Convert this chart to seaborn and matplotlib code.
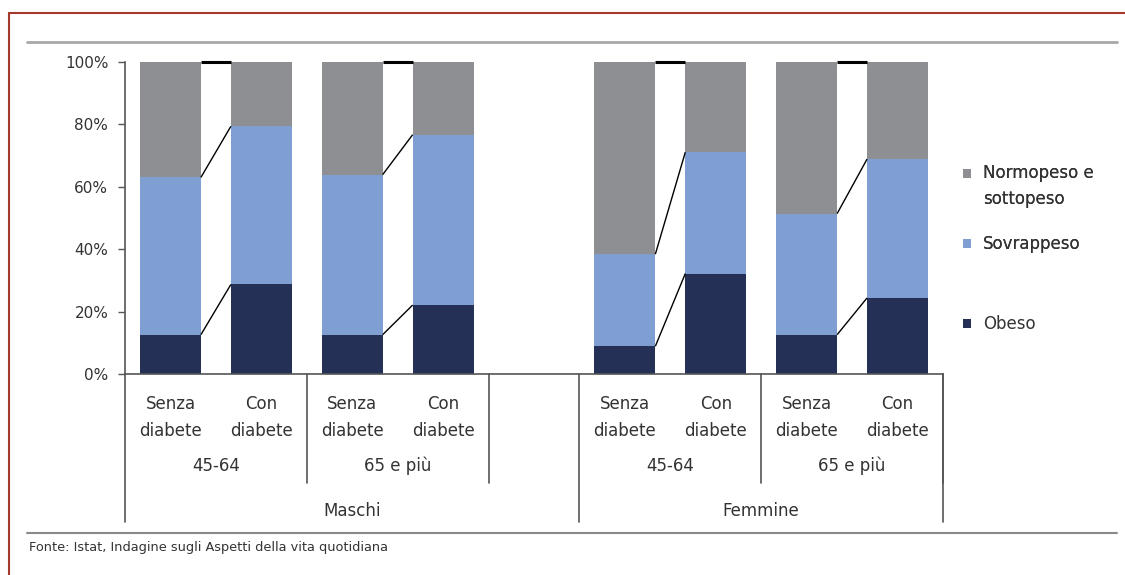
import numpy as np
import pandas as pd
import seaborn as sns
import matplotlib
matplotlib.use("Agg")
import matplotlib.pyplot as plt
import matplotlib.transforms as mtransforms
from matplotlib.patches import Patch, Rectangle
from matplotlib.lines import Line2D
from matplotlib.legend_handler import HandlerPatch

# ---------------- data ----------------
sexes = ["Maschi", "Femmine"]
sex = ["Maschi", "Maschi", "Maschi", "Maschi", "Femmine", "Femmine", "Femmine", "Femmine"]
age = ["45-64", "45-64", "65 e più", "65 e più", "45-64", "45-64", "65 e più", "65 e più"]
diab = ["Senza\ndiabete", "Con\ndiabete"] * 4
obeso = [12.6, 28.7, 12.6, 22.1, 8.9, 32.2, 12.6, 24.4]
sovrappeso = [50.4, 50.7, 51.3, 54.6, 29.5, 38.9, 38.8, 44.5]
normopeso = [37.0, 20.6, 36.1, 23.3, 61.6, 28.9, 48.6, 31.1]
series_labels = ["Normopeso e\nsottopeso", "Sovrappeso", "Obeso"]
colors = ["#8e8f93", "#7f9fd2", "#243056"]
source = "Fonte: Istat, Indagine sugli Aspetti della vita quotidiana"

# slot index: an empty slot separates the two sexes
pos = [i + sexes.index(s) for i, s in enumerate(sex)]
df = pd.DataFrame({"pos": pos, "sex": sex, "age": age, "diab": diab,
                   "obeso": obeso, "sovrappeso": sovrappeso, "normopeso": normopeso})
df["c_obeso"] = df["obeso"]
df["c_sovra"] = df["obeso"] + df["sovrappeso"]
df["c_tot"] = df["c_sovra"] + df["normopeso"]

# ---------------- style ----------------
sns.set_theme(style="white")
plt.rcParams["font.family"] = ["DejaVu Sans"]
TXT = "#333333"

W, H = 1125, 575
fig = plt.figure(figsize=(W / 100, H / 100), dpi=100)
fig.patch.set_facecolor("white")
ax = fig.add_axes([125 / W, 1 - 374 / H, (943 - 125) / W, (374 - 62) / H])

bw = 0.67
for col, c in zip(["c_tot", "c_sovra", "c_obeso"], colors):
    sns.barplot(data=df, x="pos", y=col, native_scale=True, width=bw, color=c,
                errorbar=None, linewidth=0, edgecolor="none", saturation=1, ax=ax)

# series lines between the two bars of each age group
for j in range(0, len(df), 2):
    a, b = df.iloc[j], df.iloc[j + 1]
    x0, x1 = a["pos"] + bw / 2, b["pos"] - bw / 2
    for k, (ca, cb) in enumerate([(a["c_obeso"], b["c_obeso"]),
                                  (a["c_sovra"], b["c_sovra"]),
                                  (a["c_tot"], b["c_tot"])]):
        ax.plot([x0, x1], [ca, cb], color="black", lw=2.2 if k == 2 else 1.0,
                solid_capstyle="butt", zorder=3, clip_on=False)

ax.set_xlim(-0.5, 8.5)
ax.set_ylim(0, 100)
ax.set_yticks([0, 20, 40, 60, 80, 100])
ax.set_yticklabels([f"{v}%" for v in [0, 20, 40, 60, 80, 100]])
ax.set_xticks([])
ax.set_xlabel("")
ax.set_ylabel("")
ax.tick_params(axis="y", direction="out", length=5, width=1, color="#555555",
               labelsize=11, labelcolor=TXT, pad=7, left=True)
for s in ["top", "right"]:
    ax.spines[s].set_visible(False)
for s in ["left", "bottom"]:
    ax.spines[s].set_color("#555555")
    ax.spines[s].set_linewidth(1.2)

# ---------------- multi-level category axis ----------------
tr = mtransforms.blended_transform_factory(ax.transData, fig.transFigure)
fy = lambda py: 1 - py / H

for p, d in zip(df["pos"], df["diab"]):
    top, bot = d.split("\n")
    ax.text(p, fy(404), top, transform=tr, ha="center", va="center", fontsize=12, color=TXT)
    ax.text(p, fy(431), bot, transform=tr, ha="center", va="center", fontsize=12, color=TXT)

groups = df.groupby(["sex", "age"], sort=False)["pos"]
for (s, a), ps in groups:
    ax.text(ps.mean(), fy(466), a, transform=tr, ha="center", va="center", fontsize=12, color=TXT)
    ax.add_line(Line2D([ps.max() + 0.5] * 2, [fy(374), fy(483)], transform=tr,
                       color="#555555", lw=1.2, clip_on=False))

sex_groups = df.groupby("sex", sort=False)["pos"]
sex_bounds = [-0.5]
for s, ps in sex_groups:
    left = ps.min() - 0.5
    right = ps.max() + 0.5 if s == sexes[-1] else ps.max() + 1.5
    xc = (left + right) / 2
    ax.text(xc, fy(511), s, transform=tr, ha="center", va="center", fontsize=12, color=TXT)
    sex_bounds.append(right)
for xb in sex_bounds:
    ax.add_line(Line2D([xb] * 2, [fy(374), fy(522)], transform=tr,
                       color="#555555", lw=1.2, clip_on=False))

# ---------------- legend ----------------
def top_aligned(legend, orig_handle, xdescent, ydescent, width, height, fontsize):
    return Rectangle((-xdescent, -ydescent + 9.4), width, height)

h = [Patch(facecolor=c, edgecolor="none") for c in colors]
common = dict(loc="upper left", frameon=False, fontsize=12, handlelength=0.45,
              handleheight=0.45, handletextpad=0.75, labelcolor=TXT,
              borderaxespad=0, borderpad=0)
leg1 = fig.legend(h[:2], series_labels[:2], bbox_to_anchor=(963 / W, fy(164)),
                  labelspacing=1.66, handler_map={h[0]: HandlerPatch(patch_func=top_aligned)},
                  **common)
for t in leg1.get_texts():
    t.set_linespacing(1.55)
leg2 = fig.legend(h[2:], series_labels[2:], bbox_to_anchor=(963 / W, fy(315)), **common)
fig.add_artist(leg1)

# ---------------- decorations ----------------
fig.add_artist(Line2D([27 / W, 1117 / W], [fy(42)] * 2, color="#a8a8a8", lw=2))
fig.add_artist(Line2D([27 / W, 1117 / W], [fy(533)] * 2, color="#8a8a8a", lw=1.5))
fig.text(29 / W, fy(547), source, ha="left", va="center", fontsize=9.3, color=TXT)
fig.add_artist(Line2D([9 / W, 9 / W], [fy(13), 0], color="#a33a2c", lw=1.5))
fig.add_artist(Line2D([9 / W, 1], [fy(13)] * 2, color="#a33a2c", lw=1.5))

fig.savefig("out.png", dpi=100, facecolor="white")
